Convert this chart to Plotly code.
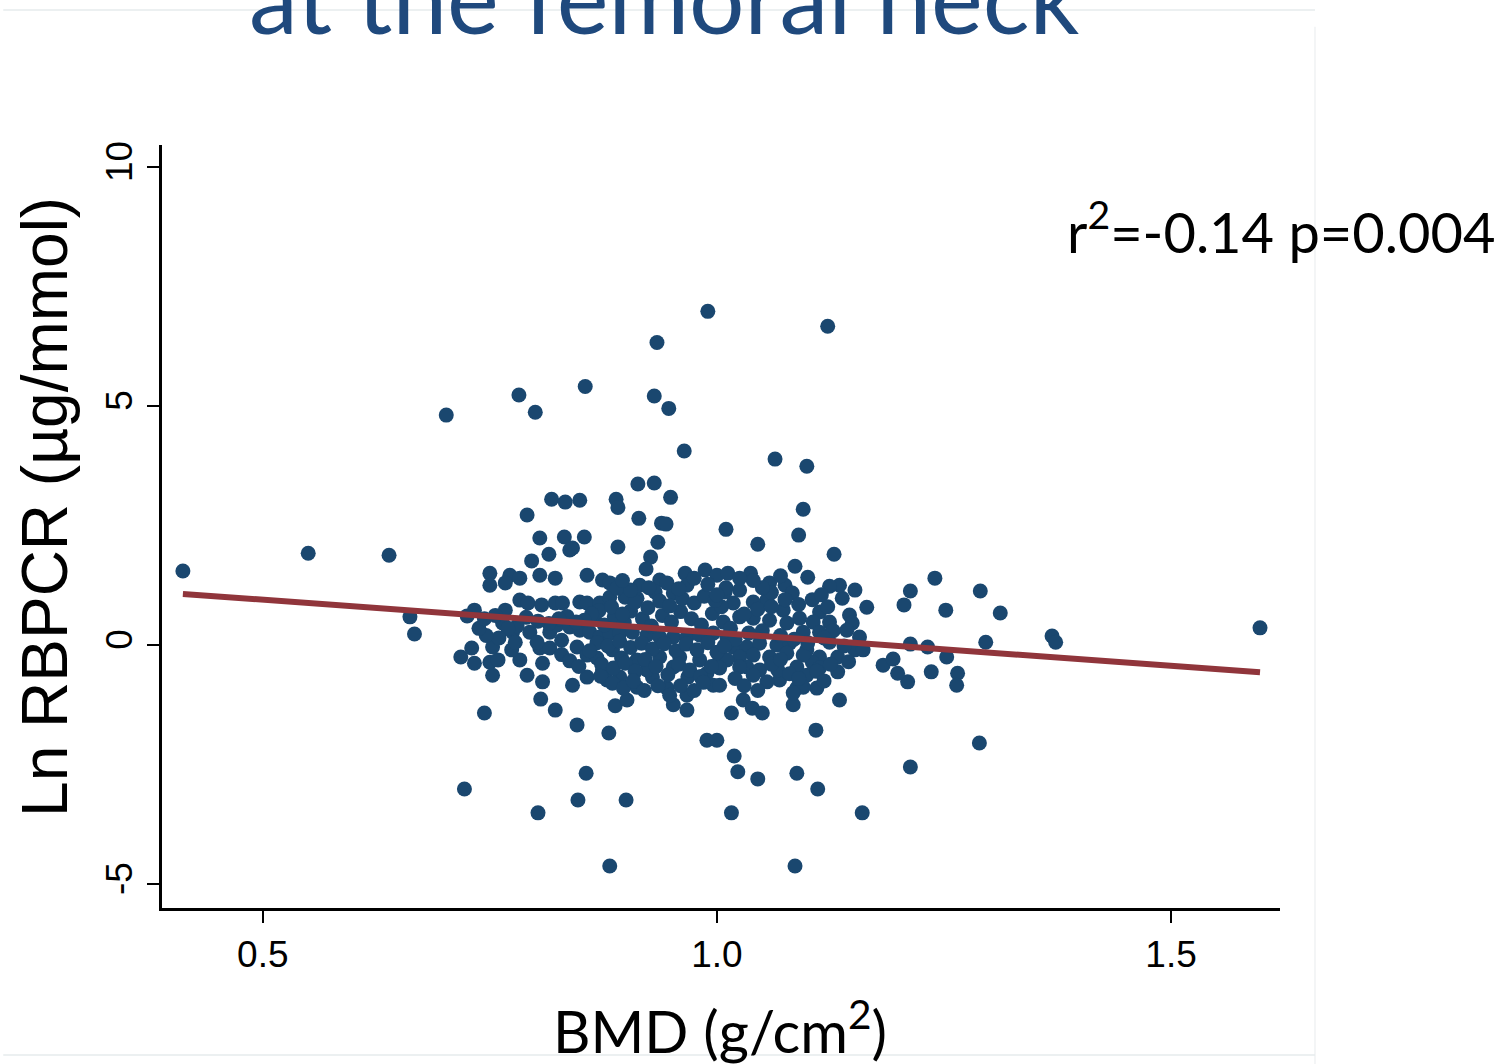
import plotly.graph_objects as go

# ---- data ----
bmd = [
    0.412, 0.550, 0.639, 0.662, 0.667, 0.702, 0.725, 0.718, 0.722, 0.744,
    0.782, 0.800, 0.791, 0.818, 0.833, 0.849, 0.855, 0.934, 0.931, 0.947,
    0.990, 1.122, 0.964, 1.064, 1.099, 0.913, 0.931, 0.949, 0.889, 0.891,
    0.914, 0.939, 0.944, 1.010, 1.095, 1.090, 1.129, 1.045, 0.805, 0.832,
    0.854, 0.838, 0.815, 0.796, 0.891, 0.935, 0.927, 0.922, 0.841,
    0.882, 1.086, 0.803, 1.016, 1.160, 0.847, 0.900, 0.856, 1.045, 1.023,
    1.088, 1.111, 1.213, 1.289, 1.019, 0.989, 1.000, 0.881, 0.846, 0.806,
    0.822, 0.888, 0.901, 1.016, 1.029, 1.039, 1.050, 1.109, 1.084, 1.135,
    0.841, 0.952, 0.967, 0.967, 0.945, 0.996, 0.989, 0.968, 0.929, 0.912,
    0.893, 0.879, 0.874, 0.857, 0.808, 0.791, 0.753, 0.733, 0.750, 0.759,
    0.783, 0.808, 0.730, 0.753, 0.774, 0.805, 0.816, 0.846, 0.857, 0.868,
    0.885, 0.895, 0.912, 0.923, 0.937, 0.952, 0.959, 0.981, 1.003, 1.018,
    0.775, 0.778, 0.794, 0.802, 0.816, 0.829, 0.824, 0.838, 0.849, 0.860,
    0.871, 0.882, 0.893, 0.907, 0.923, 0.937, 0.952, 0.967, 0.981, 0.996,
    1.011, 0.733, 0.767, 0.764, 0.783, 0.792, 0.807, 0.822, 0.830, 0.849,
    0.857, 0.871, 0.882, 0.899, 0.912, 0.750, 0.750, 0.772, 0.783, 0.767,
    0.805, 0.822, 0.857, 0.874, 0.882, 0.890, 0.915, 0.937, 0.932, 0.965,
    0.967, 0.952, 0.987, 1.000, 1.012, 1.009, 1.018, 1.037,
    1.598, 1.369, 1.373, 1.312, 1.290, 1.296, 1.240, 1.252, 1.213, 1.206,
    1.213, 1.232, 1.253, 1.265, 1.264, 1.236, 1.210, 1.199, 1.183, 1.194,
    1.165, 1.152, 1.138, 1.135, 1.124, 1.100, 1.086, 1.146, 1.149, 1.157,
    1.152, 1.161, 1.133, 1.133, 1.110, 1.069, 1.055, 1.088,
    1.058, 1.075, 1.083, 1.055, 1.040, 1.025, 1.073, 1.091, 1.113, 1.124,
    1.106, 1.077, 1.058, 1.040, 1.025, 1.007, 1.095, 1.113, 1.143, 1.124,
    1.011, 1.033, 1.047, 1.066, 1.080, 1.099, 1.113, 1.105, 1.095, 1.077,
    1.058, 1.040, 1.025, 1.011, 1.033, 1.047, 1.067, 1.088, 1.099, 1.113,
    1.040, 1.025, 1.003, 1.003, 1.095, 1.084,
    0.865, 0.876, 0.887, 0.898, 0.905, 0.918, 0.928, 0.940, 0.950, 0.960,
    0.972, 0.983, 0.995, 1.005, 0.868, 0.880, 0.893, 0.905, 0.917, 0.929,
    0.942, 0.955, 0.966, 0.978, 0.990, 1.000, 0.873, 0.886, 0.899, 0.910,
    0.921, 0.933, 0.946, 0.958, 0.970, 0.982, 0.994, 0.870, 0.884, 0.896,
    0.910, 0.924, 0.937, 0.948, 0.962, 0.975, 0.986, 0.998, 0.925, 0.945,
    0.958, 0.975, 0.990, 0.905, 0.896, 0.862, 0.854, 0.845, 0.835, 0.826,
    0.815, 0.803, 0.790, 0.780, 0.770, 0.760, 0.746, 0.738, 0.744, 0.756,
    0.829, 0.838, 0.848, 0.860, 0.872, 0.885, 0.897, 0.908, 0.920, 0.935,
    0.948, 0.960, 0.975, 0.985, 1.020, 1.030, 1.045, 1.060, 1.070, 1.080,
    1.090, 1.100, 1.085, 1.070, 1.050, 1.035, 1.020, 1.008, 1.015, 1.030,
    1.045, 1.060, 1.075, 1.090, 1.105, 1.115, 1.122, 1.128, 1.118, 1.140,
    1.125, 1.145, 1.110, 1.118, 1.060, 1.070, 1.050, 1.040, 1.025, 1.010,
    1.000,
]

ln_rbpcr = [
    1.55, 1.92, 1.88, 0.59, 0.23, 4.81, 0.61, -0.25, -3.01, -1.42,
    5.23, 4.87, 2.72, 3.05, 2.99, 3.03, 5.41, 6.33, 5.21, 4.95,
    6.98, 6.67, 4.06, 3.89, 3.74, 3.37, 3.39, 3.09, 3.05, 2.88,
    2.65, 2.55, 2.53, 2.42, 2.84, 2.30, 1.90, 2.11, 2.24, 2.26,
    2.26, 1.99, 1.90, 1.76, 2.05, 2.15, 1.84, 1.59, 2.03,
    -4.62, -4.62, -3.51, -3.51, -3.51, -3.24, -3.24, -2.68, -2.80, -2.65,
    -2.68, -3.01, -2.55, -2.05, -2.32, -1.99, -1.99, -1.84, -1.67, -1.13,
    -1.36, -1.27, -1.15, -1.42, -1.15, -1.32, -1.42, -1.78, -1.25, -1.15,
    -0.84, -1.25, -1.36, -1.05, -0.90, -0.84, -0.59, -0.67, -0.67, -0.88,
    -0.67, -0.73, -0.52, -0.67, -0.77, -0.63, -0.63, -0.38, -0.36, -0.31,
    -0.31, -0.38, -0.06, -0.04, -0.10, -0.06, -0.06, -0.04, -0.21, -0.27,
    -0.10, -0.27, -0.31, -0.52, -0.25, -0.46, -0.25, -0.31, -0.31, -0.04,
    0.27, 0.06, 0.27, 0.06, 0.27, 0.10, 0.42, 0.38, 0.31, 0.27,
    0.17, 0.25, 0.25, 0.27, 0.21, 0.17, 0.17, 0.17, 0.21, 0.25,
    0.17, 0.73, 0.73, 0.46, 0.94, 0.88, 0.84, 0.88, 0.88, 0.90,
    0.88, 0.88, 1.00, 1.00, 0.98, 1.50, 1.25, 1.46, 1.40, 1.30,
    1.46, 1.40, 1.46, 1.36, 1.30, 1.19, 1.25, 1.36, 1.11, 1.50,
    1.25, 1.09, 1.57, 1.46, 1.50, 1.11, 0.88, 1.50,
    0.36, 0.19, 0.06, 0.67, 1.13, 0.06, 1.40, 0.73, 1.13, 0.84,
    0.02, -0.04, -0.25, -0.59, -0.84, -0.56, -0.77, -0.59, -0.42, -0.29,
    0.79, 1.15, 0.98, 1.25, 1.23, 1.42, 1.65, 0.63, 0.46, 0.17,
    -0.10, -0.10, -0.25, -0.56, -0.90, -0.73, -0.77, -0.90,
    1.30, 1.25, 1.09, 0.94, 0.90, 1.15, 0.73, 0.56, 0.69, 0.48,
    0.48, 0.46, 0.52, 0.56, 0.59, 0.48, 0.27, 0.27, 0.31, 0.06,
    0.04, -0.04, 0.04, 0.00, 0.04, -0.10, -0.25, -0.36, -0.21, -0.17,
    -0.25, -0.21, -0.25, -0.31, -0.46, -0.52, -0.52, -0.46, -0.63, -0.48,
    -0.63, -0.46, -0.48, -0.84, -0.88, -1.00,
    0.55, 0.42, 0.60, 0.47, 0.71, 0.55, 0.40, 0.62, 0.48, 0.70,
    0.55, 0.42, 0.66, 0.80, 0.05, -0.02, 0.08, -0.05, 0.04, -0.08,
    0.03, -0.12, 0.02, -0.10, 0.05, -0.15, -0.40, -0.48, -0.38, -0.55,
    -0.30, -0.45, -0.62, -0.40, -0.52, -0.66, -0.45, 0.72, 0.80, 0.65,
    0.90, 0.78, 0.92, 0.82, 0.97, 0.88, 1.02, 0.93, 1.20, 1.30,
    1.18, 1.40, 1.27, 1.15, 1.35, 0.65, 0.52, 0.48, 0.60, 0.55,
    0.45, 0.50, 0.58, 0.40, 0.35, 0.15, 0.20, 0.35, 0.55, 0.62,
    -0.20, -0.33, -0.45, -0.12, -0.65, -0.80, -0.90, -0.75, -0.95, -0.85,
    -1.05, -0.85, -0.95, -0.78, -0.70, -0.85, -0.95, -0.40, -0.30, -0.60,
    -0.70, 0.05, 0.12, 0.20, 0.30, 0.25, 0.12, -0.02, 0.35, 0.65,
    0.75, 0.80, 0.95, 0.85, 0.95, 1.05, 0.80, 0.30, 0.15, -0.02,
    -0.40, -0.35, -0.55, -0.75, 1.10, 1.45, 1.20, 1.35, 1.40, 1.20,
    1.05,
]

fit_x = [0.412, 1.598]
fit_y = [1.07, -0.57]

x_tick_vals = [0.5, 1.0, 1.5]
x_tick_text = ["0.5", "1.0", "1.5"]
y_tick_vals = [-5, 0, 5, 10]
y_tick_text = ["-5", "0", "5", "10"]

title_text = "at the femoral neck"
x_title = "BMD (g/cm<sup>2</sup>)"
y_title = "Ln RBPCR (µg/mmol)"
stat_text = "r<sup>2</sup>=-0.14 p=0.004"

NAVY = "#1a476f"
MAROON = "#90353b"
TITLE_BLUE = "#1f497d"

fig = go.Figure()
fig.add_trace(go.Scatter(
    x=bmd, y=ln_rbpcr, mode="markers",
    marker=dict(color=NAVY, size=15, line=dict(width=0)),
    hoverinfo="x+y",
))
fig.add_trace(go.Scatter(
    x=fit_x, y=fit_y, mode="lines",
    line=dict(color=MAROON, width=6),
))

fig.update_layout(
    width=1506, height=1064,
    margin=dict(l=162, r=226, t=145, b=156),
    paper_bgcolor="white", plot_bgcolor="white",
    showlegend=False,
    font=dict(family="Liberation Sans, Arial, sans-serif", color="black"),
)

fig.update_xaxes(
    range=[0.389, 1.620], automargin=False,
    tickmode="array", tickvals=x_tick_vals, ticktext=x_tick_text,
    ticks="outside", ticklen=12, tickwidth=2, tickcolor="black",
    showline=True, linewidth=3, linecolor="black",
    showgrid=False, zeroline=False,
    tickfont=dict(family="Liberation Sans, Arial", size=37, color="black"),
)
fig.update_yaxes(
    range=[-5.5, 10.46], automargin=False,
    tickmode="array", tickvals=y_tick_vals, ticktext=y_tick_text,
    ticks="outside", ticklen=12, tickwidth=2, tickcolor="black", tickangle=-90,
    showline=True, linewidth=3, linecolor="black",
    showgrid=False, zeroline=False,
    tickfont=dict(family="Liberation Sans, Arial", size=37, color="black"),
)

# axis titles, placed as in the reference
fig.add_annotation(
    text=y_title, xref="paper", yref="paper",
    x=-0.1047, y=0.5256, xanchor="center", yanchor="middle", textangle=-90,
    showarrow=False,
    font=dict(family="Liberation Sans, Arial", size=64, color="black"),
)
fig.add_annotation(
    text=x_title, xref="paper", yref="paper",
    x=0.4991, y=-0.156, xanchor="center", yanchor="middle",
    showarrow=False,
    font=dict(family="Lato", size=58, color="black"),
)
fig.add_annotation(
    text=stat_text, xref="paper", yref="paper",
    x=1.194, y=0.892, xanchor="right", yanchor="middle", showarrow=False,
    font=dict(family="Lato", size=56, color="black"),
)
fig.add_annotation(
    text=title_text, xref="paper", yref="paper",
    x=0.4499, y=1.195, xanchor="center", yanchor="middle", showarrow=False,
    font=dict(family="Lato", size=98, color=TITLE_BLUE),
)

# faint slide frame lines
frame = "#e6ebec"
fig.add_shape(type="line", xref="paper", yref="paper", x0=-0.142, x1=1.0313, y0=1.177, y1=1.177,
              line=dict(color=frame, width=1.5))
fig.add_shape(type="line", xref="paper", yref="paper", x0=1.0313, x1=1.0313, y0=1.155, y1=-0.205,
              line=dict(color="#f0f2f3", width=1.5))
fig.add_shape(type="line", xref="paper", yref="paper", x0=-0.142, x1=1.0313, y0=-0.1927, y1=-0.1927,
              line=dict(color=frame, width=1.5))

fig.write_html("out.html")
